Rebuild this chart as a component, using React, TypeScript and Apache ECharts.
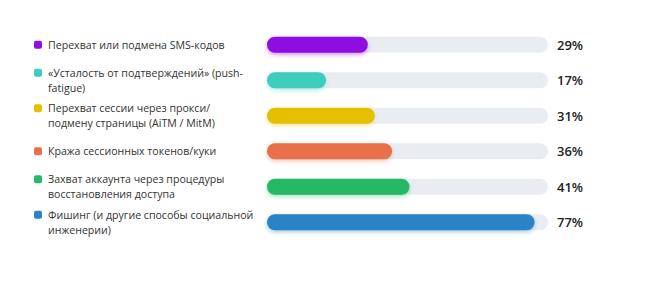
import React, { useEffect, useRef } from "react";
import * as echarts from "echarts";

const categories = [
  "Перехват или подмена SMS-кодов",
  "«Усталость от подтверждений» (push-\nfatigue)",
  "Перехват сессии через прокси/\nподмену страницы (AiTM / MitM)",
  "Кража сессионных токенов/куки",
  "Захват аккаунта через процедуры\nвосстановления доступа",
  "Фишинг (и другие способы социальной\nинженерии)",
];
const values = [29, 17, 31, 36, 41, 77];
const colors = ["#8f0fe0", "#3ecdbd", "#e5c000", "#e8714b", "#27b866", "#2b83c6"];
const trackColor = "#e9edf2";

export default function App() {
  const ref = useRef<HTMLDivElement>(null);
  useEffect(() => {
    if (!ref.current) return;
    const chart = echarts.init(ref.current, undefined, { renderer: "svg" });
    const maxV = Math.max(...values) * 1.05;
    const rich: any = {
      t: { fontSize: 10.6, color: "#333", fontFamily: "Open Sans", lineHeight: 15 },
      pad: { width: 14 },
      pad0: { width: 6 },
    };
    colors.forEach((c, i) => {
      rich["sq" + i] = { width: 8, height: 8, backgroundColor: c, borderRadius: 2 };
    });
    chart.setOption({
      animation: false,
      grid: { left: 259, right: 94, top: 19, bottom: 63 },
      xAxis: { type: "value", min: 0, max: maxV, show: false },
      yAxis: {
        type: "category",
        inverse: true,
        data: categories,
        axisLine: { show: false },
        axisTick: { show: false },
        axisLabel: {
          align: "left",
          margin: 233,
          formatter: (v: string, idx: number) => {
            const lines = v.split("\n");
            return lines
              .map((l, k) => (k === 0 ? `{sq${idx}|}{pad0|}{t|${l}}` : `{pad|}{t|${l}}`))
              .join("\n");
          },
          rich,
        },
      },
      series: [
        {
          type: "bar",
          barWidth: 16,
          barGap: "-100%",
          silent: true,
          data: values.map(() => maxV),
          itemStyle: { color: trackColor, borderRadius: 8 },
          label: {
            show: true,
            position: "right",
            distance: 9,
            formatter: (p: any) => values[p.dataIndex] + "%",
            fontSize: 13,
            fontWeight: 600,
            color: "#222",
            fontFamily: "Open Sans",
          },
        },
        {
          type: "bar",
          barWidth: 16,
          barGap: "-100%",
          data: values.map((v, i) => ({
            value: v,
            itemStyle: {
              color: colors[i],
              borderRadius: 8,
              shadowColor: colors[i] + "66",
              shadowBlur: 4,
              shadowOffsetY: 2,
            },
          })),
        },
      ],
    });
    return () => chart.dispose();
  }, []);
  return <div ref={ref} style={{ width: 634, height: 295 }} />;
}
